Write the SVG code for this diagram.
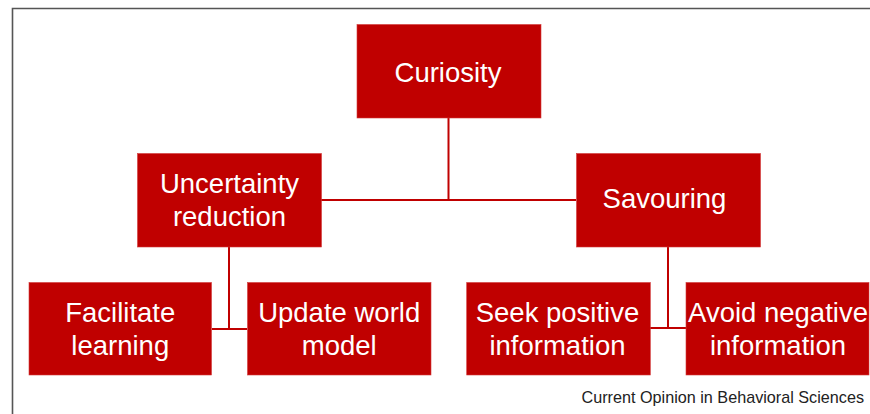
<svg xmlns="http://www.w3.org/2000/svg" width="870" height="414" viewBox="0 0 870 414">
<style>
.box{fill:#c00000;stroke:#d23a3a;stroke-width:0.6}
.lbl{font-family:"Liberation Sans",Arial,sans-serif;font-size:27.5px;fill:#ffffff;text-anchor:middle}
.con{stroke:#c00000;stroke-width:2;fill:none}
.frame{stroke:#555555;stroke-width:1.6;fill:none}
.src{font-family:"Liberation Sans",Arial,sans-serif;font-size:16.2px;fill:#222222;text-anchor:end}
</style>
<rect width="870" height="414" fill="#ffffff"/>
<path class="frame" d="M12.5,414 V8.5 H870"/>
<g id="connectors">
<path class="con" d="M448.5,118 V200"/>
<path class="con" d="M321,200 H576"/>
<path class="con" d="M229,247 V329"/>
<path class="con" d="M212,329 H247"/>
<path class="con" d="M668,247 V328"/>
<path class="con" d="M650,328 H686"/>
</g>
<g id="curiosity">
<rect class="box" x="357" y="24.5" width="184" height="93.5"/>
<text class="lbl" x="448" y="81.5">Curiosity</text>
</g>
<g id="uncertainty">
<rect class="box" x="137.5" y="153.5" width="184" height="93.5"/>
<text class="lbl" x="229.5" y="193.3">Uncertainty</text>
<text class="lbl" x="229.5" y="226.3">reduction</text>
</g>
<g id="savouring">
<rect class="box" x="576.5" y="153.5" width="184" height="93.5"/>
<text class="lbl" x="664.5" y="207.5">Savouring</text>
</g>
<g id="facilitate">
<rect class="box" x="29" y="282.5" width="182.5" height="92.5"/>
<text class="lbl" x="120.3" y="321.7">Facilitate</text>
<text class="lbl" x="120.3" y="354.5">learning</text>
</g>
<g id="update">
<rect class="box" x="247.5" y="282.5" width="183.5" height="92.5"/>
<text class="lbl" x="339.2" y="321.7">Update world</text>
<text class="lbl" x="339.2" y="354.5">model</text>
</g>
<g id="seek">
<rect class="box" x="466.7" y="282.5" width="183.6" height="92.5"/>
<text class="lbl" x="557.5" y="321.7">Seek positive</text>
<text class="lbl" x="557.5" y="354.5">information</text>
</g>
<g id="avoid">
<rect class="box" x="686" y="282.5" width="183" height="92.5"/>
<text class="lbl" x="778" y="321.7">Avoid negative</text>
<text class="lbl" x="778" y="354.5">information</text>
</g>
<text class="src" x="864" y="402.5">Current Opinion in Behavioral Sciences</text>
</svg>
